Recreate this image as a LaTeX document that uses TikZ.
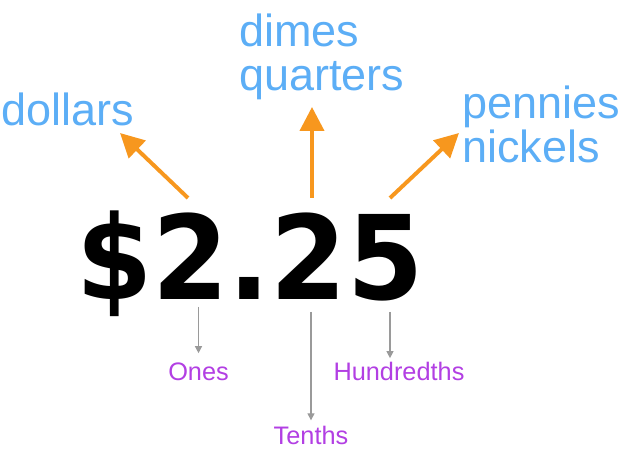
\documentclass[tikz,border=0pt]{standalone}
\usepackage{fontspec}
\setmainfont{Liberation Sans}
\newfontfamily\amountfont{DejaVu Sans}
\usetikzlibrary{arrows.meta}
\definecolor{coinblue}{HTML}{5CAEF6}
\definecolor{coinorange}{HTML}{F7971E}
\definecolor{placepurple}{HTML}{B23FE3}
\definecolor{tickgray}{HTML}{9A9A9A}
\begin{document}
\begin{tikzpicture}[x=0.025cm,y=-0.025cm,
  amount/.style={anchor=base west,inner sep=0pt,
    font=\amountfont\bfseries\fontsize{83}{83}\selectfont},
  coin/.style={inner sep=0pt,align=left,text=coinblue,
    font=\fontsize{32}{31}\selectfont},
  place/.style={anchor=base,inner sep=0pt,text=placepurple,
    font=\fontsize{18}{18}\selectfont},
  up/.style={draw=coinorange,line width=2.8pt,-{Triangle[length=17pt,width=17pt]}},
  down/.style={draw=tickgray,line width=0.9pt,-{Triangle[length=5pt,width=5pt]}}]
\useasboundingbox (0,0) rectangle (640,451);
\node[amount] (money) at (76,300) {\scalebox{0.94}[1]{\$2.25}};
\node[coin,anchor=base west] (dollars) at (1,126) {dollars};
\node[coin,anchor=north west] (dimes) at (239,14) {dimes\\quarters};
\node[coin,anchor=north west] (pennies) at (462,86) {pennies\\nickels};
\node[place] (ones) at (198.5,381) {Ones};
\node[place] (tenths) at (311,445) {Tenths};
\node[place] (hundredths) at (399,381) {Hundredths};
% orange arrows up to the coins
\coordinate (d1) at (188,198); \coordinate (d2) at (120,133);
\coordinate (q1) at (312,198); \coordinate (q2) at (312,107);
\coordinate (p1) at (390,198); \coordinate (p2) at (459,133);
\draw[up] (d1) -- (d2);
\draw[up] (q1) -- (q2);
\draw[up] (p1) -- (p2);
% gray ticks down to the places
\coordinate (o1) at (198.5,307);
\coordinate (t1) at (311,312);
\coordinate (h1) at (390,312);
\draw[down] (o1) -- ([yshift=7pt]o1 |- ones.north);
\draw[down] (t1) -- ([yshift=4.3pt]t1 |- tenths.north);
\draw[down] (h1) -- ([yshift=3pt]h1 |- hundredths.north);
\end{tikzpicture}
\end{document}
